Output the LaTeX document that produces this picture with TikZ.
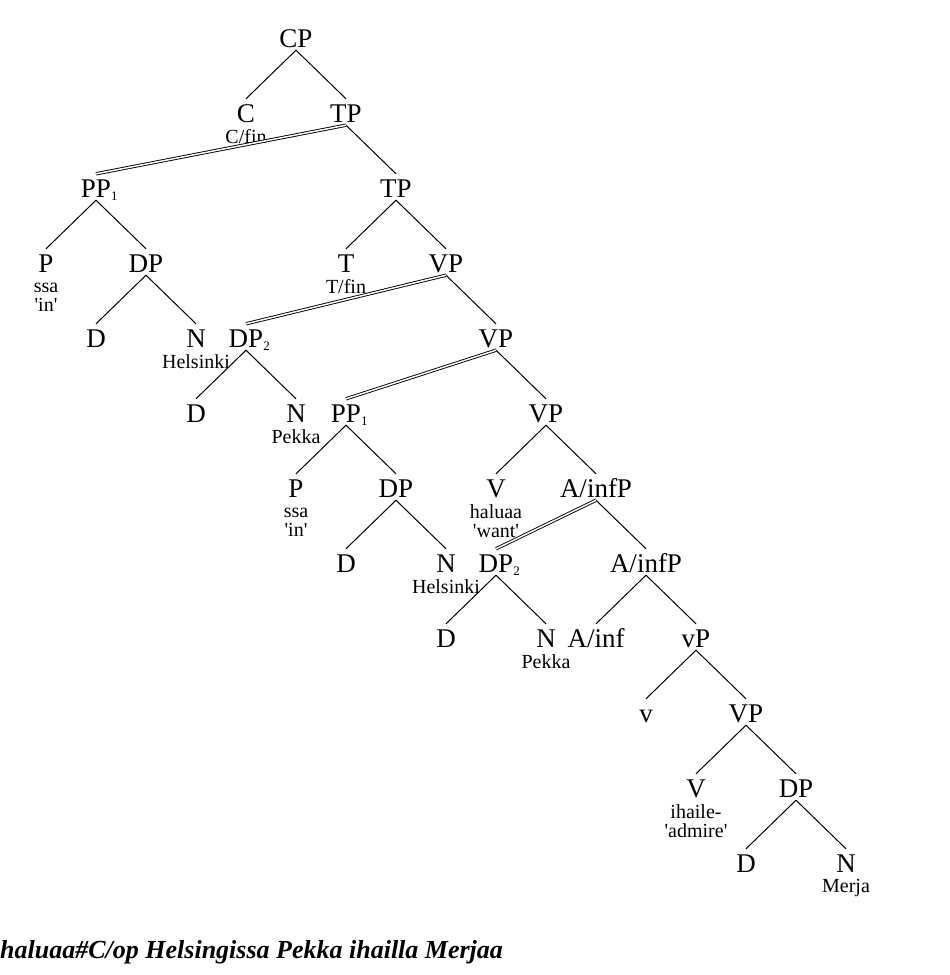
\documentclass[tikz,border=0pt]{standalone}
\usepackage{fontspec}
\setmainfont{Liberation Serif}
\usepackage{tikz}
\usetikzlibrary{positioning}
\newcommand{\katfont}{\fontsize{27}{27}\selectfont}
\newcommand{\glfont}{\fontsize{20}{19}\selectfont}
\newcommand{\glosse}[1]{\begin{tabular}{@{}c@{}}#1\end{tabular}}
\newcommand{\sq}[1]{\textquotesingle #1\textquotesingle}
\newcommand{\idx}[1]{\rlap{\raisebox{-3pt}{\fontsize{13}{13}\selectfont #1}}}

\begin{document}
\begin{tikzpicture}[x=1pt, y=-1pt,
            kat/.style={font=\katfont, inner sep=0pt, text height=23pt, text depth=3pt, anchor=base},
            gl/.style={font=\glfont, inner sep=0pt, below=4pt of #1},
            ast/.style={line width=1pt},
            bew/.style={double, line width=0.9pt, double distance=1.5pt}]
            \useasboundingbox (0,0) rectangle (950,975);
            \node [kat] (cp) at (296,47) {CP};             %Wurzel
            \node [kat] (c) at (246,122) {C};
            \node [kat] (tp1) at (346,122) {TP};
            \node [kat] (pp1) at (96,197) {PP\idx{1}};
            \node [kat] (tp2) at (396,197) {TP};
            \node [kat] (p1) at (46,272) {P};
            \node [kat] (dp1) at (146,272) {DP};
            \node [kat] (t) at (346,272) {T};
            \node [kat] (vp1) at (446,272) {VP};
            \node [kat] (d1) at (96,347) {D};
            \node [kat] (n1) at (196,347) {N};
            \node [kat] (dp2) at (246,347) {DP\idx{2}};
            \node [kat] (vp2) at (496,347) {VP};
            \node [kat] (d2) at (196,422) {D};
            \node [kat] (n2) at (296,422) {N};
            \node [kat] (pp1b) at (346,422) {PP\idx{1}};
            \node [kat] (vp3) at (546,422) {VP};
            \node [kat] (p2) at (296,497) {P};
            \node [kat] (dp3) at (396,497) {DP};
            \node [kat] (v1) at (496,497) {V};
            \node [kat] (ainfp1) at (596,497) {A/infP};
            \node [kat] (d3) at (346,572) {D};
            \node [kat] (n3) at (446,572) {N};
            \node [kat] (dp2b) at (496,572) {DP\idx{2}};
            \node [kat] (ainfp2) at (646,572) {A/infP};
            \node [kat] (d4) at (446,647) {D};
            \node [kat] (n4) at (546,647) {N};
            \node [kat] (ainf) at (596,647) {A/inf};
            \node [kat] (klvp) at (696,647) {vP};
            \node [kat] (klv) at (646,722) {v};
            \node [kat] (vp4) at (746,722) {VP};
            \node [kat] (v2) at (696,797) {V};
            \node [kat] (dp4) at (796,797) {DP};
            \node [kat] (d5) at (746,872) {D};
            \node [kat] (n5) at (846,872) {N};
            % Glossen
            \node [gl=c] (c-gl) {\glosse{C/fin}};
            \node [gl=t] (t-gl) {\glosse{T/fin}};
            \node [gl=p1] (p1-gl) {\glosse{ssa\\\sq{in}}};
            \node [gl=n1] (n1-gl) {\glosse{Helsinki}};
            \node [gl=n2] (n2-gl) {\glosse{Pekka}};
            \node [gl=p2] (p2-gl) {\glosse{ssa\\\sq{in}}};
            \node [gl=n3] (n3-gl) {\glosse{Helsinki}};
            \node [gl=v1] (v1-gl) {\glosse{haluaa\\\sq{want}}};
            \node [gl=n4] (n4-gl) {\glosse{Pekka}};
            \node [gl=v2] (v2-gl) {\glosse{ihaile-\\\sq{admire}}};
            \node [gl=n5] (n5-gl) {\glosse{Merja}};
            % Aeste
            \foreach \a/\b in {cp/c, cp/tp1, tp1/tp2, pp1/p1, pp1/dp1, dp1/d1, dp1/n1,
                tp2/t, tp2/vp1, vp1/vp2, dp2/d2, dp2/n2, vp2/vp3, pp1b/p2, pp1b/dp3,
                dp3/d3, dp3/n3, vp3/v1, vp3/ainfp1, ainfp1/ainfp2, dp2b/d4, dp2b/n4,
                ainfp2/ainf, ainfp2/klvp, klvp/klv, klvp/vp4, vp4/v2, vp4/dp4, dp4/d5, dp4/n5}
                \draw [ast] (\a.south) -- (\b.north);
            % Bewegung
            \draw [bew] (tp1.south) -- (pp1.north);
            \draw [bew] (vp1.south) -- (dp2.north);
            \draw [bew] (vp2.south) -- (pp1b.north);
            \draw [bew] (ainfp1.south) -- (dp2b.north);
            \node [anchor=base west, inner sep=0pt, font=\fontsize{26}{26}\selectfont\bfseries\itshape] (satz) at (0,958) {haluaa\#C/op Helsingissa Pekka ihailla Merjaa};
        \end{tikzpicture}
\end{document}
